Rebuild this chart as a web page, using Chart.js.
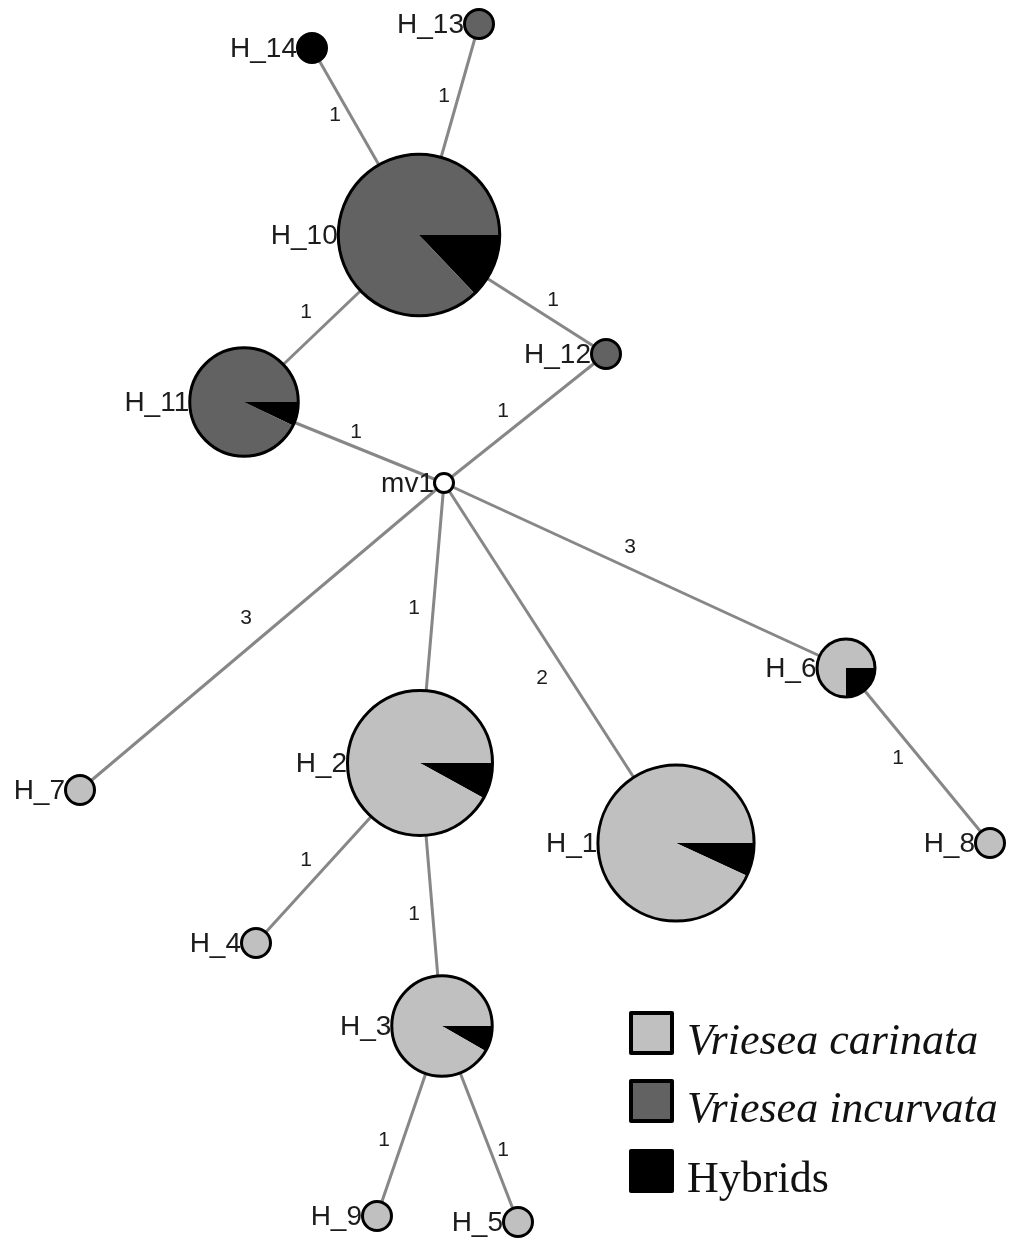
<!DOCTYPE html>
<html>
<head>
<meta charset="utf-8">
<script src="https://cdn.jsdelivr.net/npm/chart.js@4.4.1/dist/chart.umd.min.js"></script>
<style>
  html, body { margin: 0; padding: 0; background: #ffffff; }
  #net { display: block; }
</style>
</head>
<body>
<canvas id="net" width="1011" height="1241"></canvas>
<script>
// Haplotype network: node layout, sample counts per group, and mutational steps
const haplotypes = ['H_1','H_2','H_3','H_4','H_5','H_6','H_7','H_8','H_9','H_10','H_11','H_12','H_13','H_14','mv1'];
const nodeX      = [676, 420, 442, 256, 518, 846,  80, 990, 377, 419, 244, 606, 479, 312, 444];
const nodeY      = [843, 763, 1026, 943, 1222, 668, 790, 843, 1216, 235, 402, 354, 24, 48, 483];
const carinata   = [27, 23, 11, 1, 1, 3, 1, 1, 1, 0, 0, 0, 0, 0, 0];
const incurvata  = [0, 0, 0, 0, 0, 0, 0, 0, 0, 27, 13, 1, 1, 0, 0];
const hybrids    = [2, 2, 1, 0, 0, 1, 0, 0, 0, 4, 1, 0, 0, 1, 0];

const edgeFrom   = ['H_14','H_13','H_10','H_10','H_11','H_12','mv1','mv1','mv1','mv1','H_6','H_2','H_2','H_3','H_3'];
const edgeTo     = ['H_10','H_10','H_11','H_12','mv1','mv1','H_7','H_2','H_1','H_6','H_8','H_4','H_3','H_9','H_5'];
const edgeSteps  = [1, 1, 1, 1, 1, 1, 3, 1, 2, 3, 1, 1, 1, 1, 1];
const edgeLabelX = [335, 444, 306, 553, 356, 503, 246, 414, 542, 630, 898, 306, 414, 384, 503];
const edgeLabelY = [115, 96, 312, 300, 432, 411, 618, 608, 678, 547, 758, 860, 914, 1140, 1150];

const legendLabels = ['Vriesea carinata', 'Vriesea incurvata', 'Hybrids'];

const COL_CAR = '#c0c0c0';
const COL_INC = '#626262';
const COL_HYB = '#000000';
const EDGE_COL = '#878787';

const idx = name => haplotypes.indexOf(name);

const edgeDatasets = edgeFrom.map((f, i) => {
  const a = idx(f), b = idx(edgeTo[i]);
  return {
    type: 'scatter',
    data: [{ x: nodeX[a], y: nodeY[a] }, { x: nodeX[b], y: nodeY[b] }],
    showLine: true,
    borderColor: EDGE_COL,
    borderWidth: 3,
    pointRadius: 0,
    pointHoverRadius: 0,
    fill: false
  };
});

// Pie-shaped nodes, edge step counts, node names and the legend
const networkPlugin = {
  id: 'network',
  afterDatasetsDraw(chart) {
    const ctx = chart.ctx;
    const xs = chart.scales.x, ys = chart.scales.y;
    const px = v => xs.getPixelForValue(v);
    const py = v => ys.getPixelForValue(v);

    // edge step labels
    ctx.save();
    ctx.fillStyle = '#1c1c1c';
    ctx.font = '21px "Liberation Sans", Arial, sans-serif';
    ctx.textAlign = 'center';
    ctx.textBaseline = 'middle';
    edgeSteps.forEach((s, i) => ctx.fillText(String(s), px(edgeLabelX[i]), py(edgeLabelY[i])));
    ctx.restore();

    // nodes
    haplotypes.forEach((name, i) => {
      const cx = px(nodeX[i]), cy = py(nodeY[i]);
      const n = carinata[i] + incurvata[i] + hybrids[i];
      const r = n > 0 ? 14.5 * Math.sqrt(n) : 9.5;
      ctx.save();
      if (n === 0) {
        ctx.beginPath();
        ctx.arc(cx, cy, r, 0, Math.PI * 2);
        ctx.fillStyle = '#ffffff';
        ctx.fill();
      } else {
        const parts = [[hybrids[i], COL_HYB], [carinata[i], COL_CAR], [incurvata[i], COL_INC]];
        let a0 = 0;
        parts.forEach(([v, c]) => {
          if (v <= 0) return;
          const a1 = a0 + (v / n) * Math.PI * 2;
          ctx.beginPath();
          ctx.moveTo(cx, cy);
          ctx.arc(cx, cy, r, a0, a1);
          ctx.closePath();
          ctx.fillStyle = c;
          ctx.fill();
          a0 = a1;
        });
      }
      ctx.beginPath();
      ctx.arc(cx, cy, r, 0, Math.PI * 2);
      ctx.lineWidth = 3;
      ctx.strokeStyle = '#000000';
      ctx.stroke();

      // node name, right-aligned against the circle
      ctx.fillStyle = '#1c1c1c';
      ctx.font = '28px "Liberation Sans", Arial, sans-serif';
      ctx.textAlign = 'right';
      ctx.textBaseline = 'middle';
      ctx.fillText(name, cx - r - 0.5, cy + 1);
      ctx.restore();
    });

    // legend
    const lx = 631, boxW = 41, boxH = 40;
    const boxTop = [1013, 1081, 1151];
    const fills = [COL_CAR, COL_INC, COL_HYB];
    ctx.save();
    legendLabels.forEach((t, i) => {
      ctx.fillStyle = fills[i];
      ctx.fillRect(lx, boxTop[i], boxW, boxH);
      ctx.lineWidth = 4;
      ctx.strokeStyle = '#000000';
      ctx.lineJoin = 'round';
      ctx.strokeRect(lx, boxTop[i], boxW, boxH);
      ctx.fillStyle = '#111111';
      ctx.font = (i < 2 ? 'italic ' : '') + '44px "Liberation Serif", "Times New Roman", serif';
      ctx.textAlign = 'left';
      ctx.textBaseline = 'alphabetic';
      ctx.fillText(t, 687, boxTop[i] + boxH + 1);
    });
    ctx.restore();
  }
};

new Chart(document.getElementById('net'), {
  type: 'scatter',
  data: { datasets: edgeDatasets },
  options: {
    responsive: false,
    animation: false,
    devicePixelRatio: 1,
    layout: { padding: 0 },
    plugins: { legend: { display: false }, tooltip: { enabled: false } },
    events: [],
    scales: {
      x: { type: 'linear', min: 0, max: 1011, display: false },
      y: { type: 'linear', min: 0, max: 1241, reverse: true, display: false }
    }
  },
  plugins: [networkPlugin]
});
</script>
</body>
</html>
